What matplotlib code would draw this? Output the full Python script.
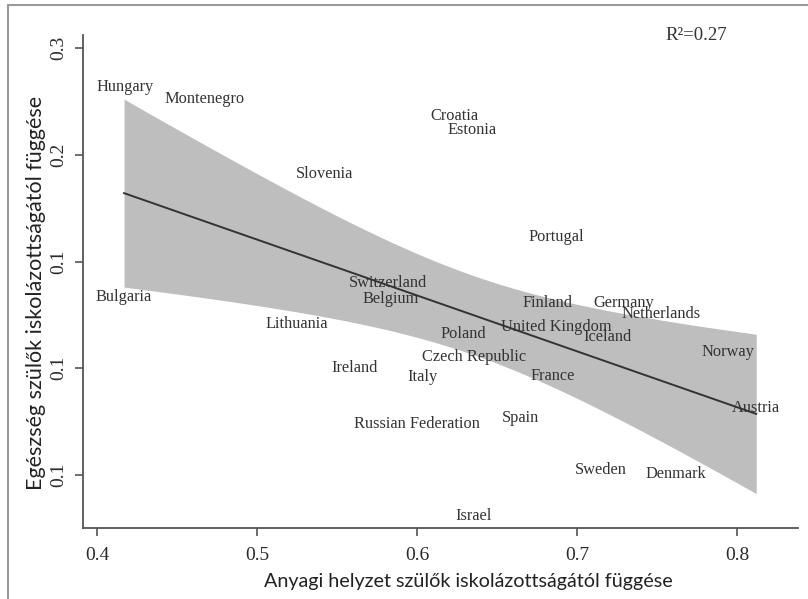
import numpy as np
import matplotlib.pyplot as plt
from matplotlib.patches import Rectangle

# Country-level values: x = material situation dependence, y = health dependence
countries = ["Hungary", "Montenegro", "Croatia", "Estonia", "Slovenia", "Portugal",
             "Bulgaria", "Switzerland", "Belgium", "Finland", "Germany", "Netherlands",
             "United Kingdom", "Iceland", "Poland", "Lithuania", "Czech Republic",
             "Ireland", "Italy", "France", "Norway", "Russian Federation", "Spain",
             "Austria", "Sweden", "Denmark", "Israel"]
x_vals = [0.4175, 0.4675, 0.6231, 0.6344, 0.5419, 0.6869,
          0.4169, 0.5819, 0.5838, 0.6813, 0.7294, 0.7525,
          0.6869, 0.7188, 0.6288, 0.5250, 0.6356,
          0.5610, 0.6031, 0.6850, 0.7944, 0.6000, 0.6644,
          0.8119, 0.7150, 0.7619, 0.6356]
y_vals = [0.2817, 0.2761, 0.2681, 0.2616, 0.2410, 0.2115,
          0.1834, 0.1899, 0.1824, 0.1806, 0.1806, 0.1754,
          0.1693, 0.1646, 0.1660, 0.1707, 0.1553,
          0.1501, 0.1459, 0.1464, 0.1576, 0.1239, 0.1267,
          0.1314, 0.1023, 0.1005, 0.0808]

x_ticks = [0.4, 0.5, 0.6, 0.7, 0.8]
x_ticklabels = ["0.4", "0.5", "0.6", "0.7", "0.8"]
y_ticks = [0.3, 0.25, 0.2, 0.15, 0.1]
y_ticklabels = ["0.3", "0.2", "0.1", "0.1", "0.1"]
r2_text = "R²=0.27"

x = np.array(x_vals)
y = np.array(y_vals)

# OLS fit with 95% confidence band for the mean (like Stata lfitci)
n = len(x)
xbar, ybar = x.mean(), y.mean()
sxx = np.sum((x - xbar) ** 2)
sxy = np.sum((x - xbar) * (y - ybar))
b = sxy / sxx
a = ybar - b * xbar
resid = y - (a + b * x)
s = np.sqrt(np.sum(resid ** 2) / (n - 2))
t_crit = 2.0595  # t(0.975, df=25)
xs = np.linspace(x.min(), x.max(), 100)
fit = a + b * xs
half = t_crit * s * np.sqrt(1 / n + (xs - xbar) ** 2 / sxx)

fig = plt.figure(figsize=(8.08, 5.99), dpi=100)
ax = fig.add_axes([0.1027, 0.1185, 0.8849, 0.8231])

ax.fill_between(xs, fit - half, fit + half, color="#bebebe", lw=0, zorder=1)
ax.plot(xs, fit, color="#333333", lw=1.4, zorder=2)

serif = ["Liberation Serif", "DejaVu Serif"]
for name, xi, yi in zip(countries, x, y):
    ax.text(xi, yi, name, ha="center", va="center", fontsize=11.8,
            family=serif, color="#333333", zorder=3)

fig.text(696 / 808, 1 - 35 / 599, r2_text, ha="center", va="center",
         fontsize=13.5, family=serif, color="#333333")

ax.set_xlim(0.39125, 0.838)
ax.set_ylim(0.0752, 0.3061)
ax.set_xticks(x_ticks)
ax.set_xticklabels(x_ticklabels, family=serif, fontsize=14, color="#2a2a2a")
ax.set_yticks(y_ticks)
ax.set_yticklabels(y_ticklabels, family=serif, fontsize=14, color="#2a2a2a",
                   rotation=90, va="center")

for side in ["top", "right"]:
    ax.spines[side].set_visible(False)
for side in ["left", "bottom"]:
    ax.spines[side].set_color("#555555")
    ax.spines[side].set_linewidth(1.3)
ax.tick_params(axis="both", direction="out", length=6, width=1.2, color="#555555")
ax.tick_params(axis="x", pad=8)
ax.tick_params(axis="y", pad=5)

sans = ["Lato", "DejaVu Sans"]
ax.set_xlabel("Anyagi helyzet szülők iskolázottságától függése", family=sans,
              fontsize=14.2, color="#222222", va="center")
ax.set_ylabel("Egészség szülők iskolázottságától függése", family=sans,
              fontsize=15.5, color="#222222", va="center")
# title positions in axes fraction (axes spans x 83..798 px, y 35..528 px)
ax.xaxis.set_label_coords((468 - 83) / 715, (528 - 581) / 493)
ax.yaxis.set_label_coords((36 - 83) / 715, (528 - 293) / 493)

# light gray frame around the whole graphic
fig.add_artist(Rectangle((8 / 808, -0.1), 1.2, (599 - 5) / 599 + 0.1,
                         transform=fig.transFigure, fill=False,
                         edgecolor="#9a9a9a", lw=1.5))

fig.savefig("out.png", dpi=100)
